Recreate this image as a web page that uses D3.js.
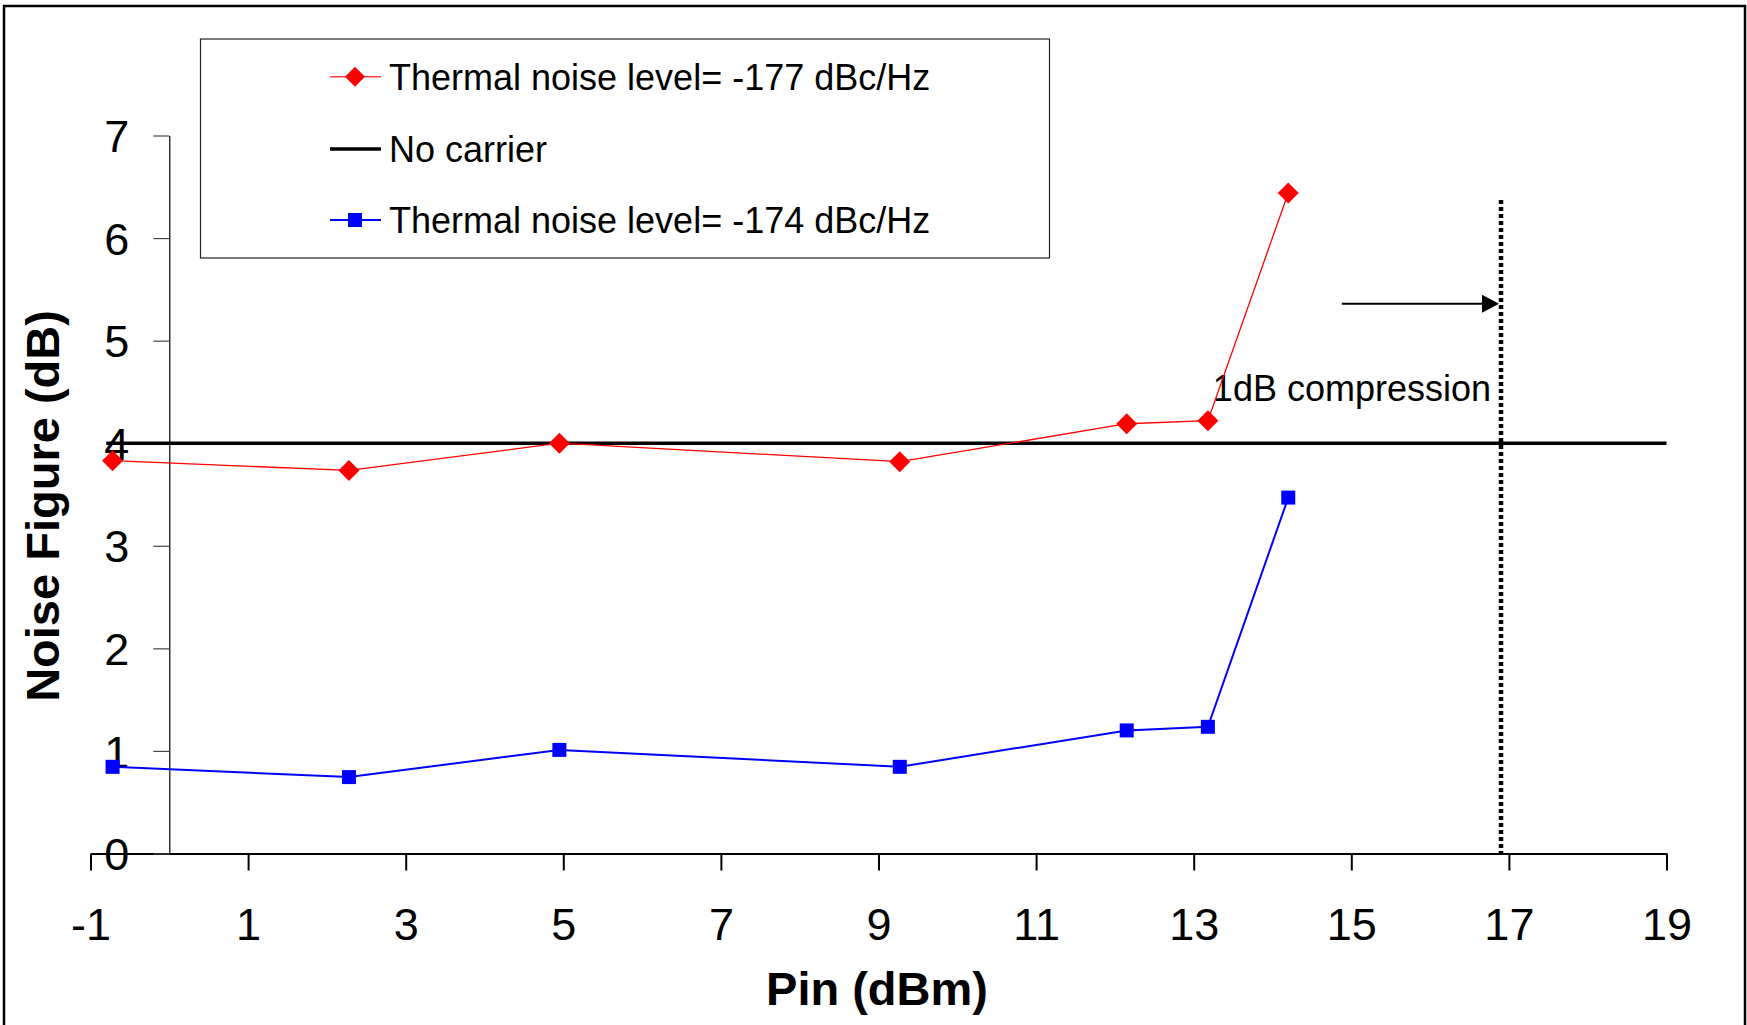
<!DOCTYPE html>
<html>
<head>
<meta charset="utf-8">
<script src="https://cdn.jsdelivr.net/npm/d3@7"></script>
<style>
  body { margin: 0; background: #fff; }
  svg text { font-family: "Liberation Sans", Arial, sans-serif; }
</style>
</head>
<body>
<svg id="viz" width="1747" height="1025"></svg>
<script>
// data
var pin = [-0.72, 2.28, 4.95, 9.27, 12.15, 13.18, 14.2];
var nf177 = [3.83, 3.735, 4.0, 3.82, 4.19, 4.22, 6.44];
var nf174 = [0.845, 0.745, 1.01, 0.845, 1.2, 1.235, 3.47];
var noCarrierX = [-0.8, 19];
var noCarrierY = [4, 4];
var xTicks = [-1, 1, 3, 5, 7, 9, 11, 13, 15, 17, 19];
var yTicks = [0, 1, 2, 3, 4, 5, 6, 7];
var compressionX = 16.9;
var compressionTop = 6.37;
var arrowFrom = 14.88, arrowY = 5.36;
var legendLabels = ["Thermal noise level= -177 dBc/Hz", "No carrier", "Thermal noise level= -174 dBc/Hz"];

var svg = d3.select("#viz");

var x = d3.scaleLinear().domain([-1, 19]).range([90.5, 1666.5]);
var y = d3.scaleLinear().domain([0, 7]).range([853.5, 135.5]);

// outer frame
svg.append("rect")
    .attr("x", 4).attr("y", 6).attr("width", 1741).attr("height", 1030)
    .style("fill", "none").style("stroke", "#000").style("stroke-width", 2.5);

// x axis
var xAxis = svg.append("g")
    .attr("transform", "translate(0," + y(0) + ")")
    .call(d3.axisBottom(x).tickValues(xTicks).tickSize(17).tickSizeOuter(0).tickFormat(d => String(d)));
xAxis.select(".domain").style("stroke-width", 2);
xAxis.selectAll(".tick line").style("stroke-width", 2);
xAxis.selectAll(".tick text")
    .attr("y", 86).attr("dy", 0)
    .style("font-size", "45px").style("fill", "#000");

// y axis at x = 0
var yAxis = svg.append("g")
    .attr("transform", "translate(" + x(0) + ",0)")
    .call(d3.axisLeft(y).tickValues(yTicks).tickSize(16).tickSizeOuter(0).tickFormat(d => String(d)));
yAxis.select(".domain").style("stroke-width", 1.2);
yAxis.selectAll(".tick line").style("stroke", "#444").style("stroke-width", 1.2);
yAxis.selectAll(".tick text")
    .attr("x", -40).attr("dy", "0.36em")
    .style("font-size", "45px").style("fill", "#000");

// axis titles
svg.append("text")
    .attr("x", 877).attr("y", 1005)
    .attr("text-anchor", "middle")
    .style("font-size", "47px").style("font-weight", "bold")
    .text("Pin (dBm)");
svg.append("text")
    .attr("transform", "translate(59,506) rotate(-90)")
    .attr("text-anchor", "middle")
    .style("font-size", "47px").style("font-weight", "bold")
    .text("Noise Figure (dB)");

var line = d3.line().x(d => x(d[0])).y(d => y(d[1]));

// no carrier line
svg.append("path")
    .datum(d3.zip(noCarrierX, noCarrierY))
    .attr("d", line)
    .style("fill", "none").style("stroke", "#000").style("stroke-width", 3.5);

// 1dB compression marker
svg.append("line")
    .attr("x1", x(compressionX)).attr("x2", x(compressionX))
    .attr("y1", y(compressionTop)).attr("y2", y(0) + 4)
    .style("stroke", "#000").style("stroke-width", 4.5).style("stroke-dasharray", "4,3");

svg.append("line")
    .attr("x1", x(arrowFrom)).attr("x2", x(compressionX) - 14)
    .attr("y1", y(arrowY)).attr("y2", y(arrowY))
    .style("stroke", "#000").style("stroke-width", 2);
svg.append("path")
    .attr("d", "M" + (x(compressionX) - 2) + "," + y(arrowY) +
        "L" + (x(compressionX) - 19) + "," + (y(arrowY) - 9) +
        "L" + (x(compressionX) - 19) + "," + (y(arrowY) + 9) + "Z")
    .style("fill", "#000");

svg.append("text")
    .attr("x", 1491).attr("y", 401)
    .attr("text-anchor", "end")
    .style("font-size", "36px")
    .text("1dB compression");

// red series
svg.append("path")
    .datum(d3.zip(pin, nf177))
    .attr("d", line)
    .style("fill", "none").style("stroke", "#ff0000").style("stroke-width", 1.3);
svg.selectAll(".dia")
    .data(d3.zip(pin, nf177))
    .enter().append("path")
    .attr("class", "dia")
    .attr("transform", d => "translate(" + x(d[0]) + "," + y(d[1]) + ")")
    .attr("d", "M0,-10.5L10.5,0L0,10.5L-10.5,0Z")
    .style("fill", "#ff0000");

// blue series
svg.append("path")
    .datum(d3.zip(pin, nf174))
    .attr("d", line)
    .style("fill", "none").style("stroke", "#0000ff").style("stroke-width", 2);
svg.selectAll(".sq")
    .data(d3.zip(pin, nf174))
    .enter().append("rect")
    .attr("class", "sq")
    .attr("x", d => x(d[0]) - 7).attr("y", d => y(d[1]) - 7)
    .attr("width", 14).attr("height", 14)
    .style("fill", "#0000ff");

// legend
var legend = svg.append("g");
legend.append("rect")
    .attr("x", 200.5).attr("y", 39).attr("width", 849).attr("height", 219)
    .style("fill", "#fff").style("stroke", "#222").style("stroke-width", 1.2);

var rowsY = [76.7, 149, 220];
var lg = legend.selectAll(".lg")
    .data(legendLabels)
    .enter().append("g")
    .attr("class", "lg")
    .attr("transform", (d, i) => "translate(0," + rowsY[i] + ")");

lg.append("line")
    .attr("x1", 330).attr("x2", 381).attr("y1", 0).attr("y2", 0)
    .style("stroke", (d, i) => ["#ff4040", "#000", "#0000ff"][i])
    .style("stroke-width", (d, i) => [1.5, 3.5, 2][i]);
lg.filter((d, i) => i == 0).append("path")
    .attr("transform", "translate(355,0)")
    .attr("d", "M0,-10L10,0L0,10L-10,0Z")
    .style("fill", "#ff0000");
lg.filter((d, i) => i == 2).append("rect")
    .attr("x", 348).attr("y", -7).attr("width", 14).attr("height", 14)
    .style("fill", "#0000ff");
lg.append("text")
    .attr("x", 389).attr("y", 12.8)
    .style("font-size", "36px")
    .text(d => d);
</script>
</body>
</html>
